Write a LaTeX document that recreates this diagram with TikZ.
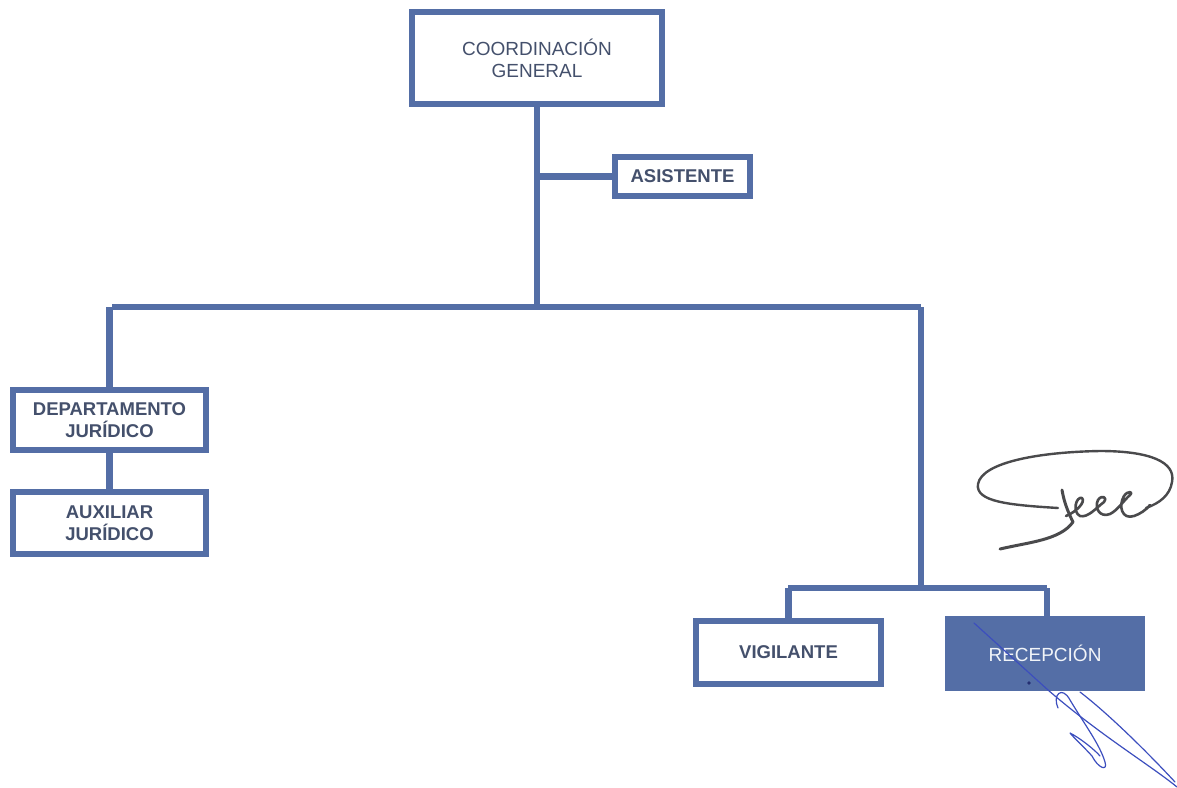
\documentclass[tikz,border=0pt]{standalone}
\usepackage{fontspec}
\setmainfont{Liberation Sans}
\begin{document}
\begin{tikzpicture}[x=1pt,y=-1pt,
  every node/.style={inner sep=0pt, align=center},
  orgbox/.style={draw=linecol, line width=6.5pt, fill=white, rectangle,
    text=txtcol, font=\fontsize{19}{22}\selectfont},
  strong/.style={font=\bfseries\fontsize{18.5}{22}\selectfont},
  link/.style={draw=linecol, line width=6.5pt, line join=miter},
  ink/.style={line width=2.4pt, line cap=round, line join=round}]
\definecolor{linecol}{RGB}{84,110,166}
\definecolor{txtcol}{RGB}{68,80,108}
\definecolor{sigA}{RGB}{74,74,76}
\definecolor{sigB}{RGB}{60,78,190}
\useasboundingbox (0,0) rectangle (1177,787);

% junctions of the tree
\coordinate (hub) at (537,307);
\coordinate (jr) at (921,588);

% connectors
\draw[link] (537,104) coordinate (trunktop) -- (hub);
\draw[link] (hub -| 112,0) -- (921,307) coordinate (barR);
\draw[link] (barR) -- (jr);
\draw[link] (788,588) coordinate (jl) -- (1047,588) coordinate (jrr);

% boxes
\node[orgbox, minimum width=250, minimum height=92] (coord) at (537,58)
  {COORDINACIÓN\\GENERAL};
\node[orgbox, strong, minimum width=135, minimum height=39] (asis) at (682.5,176.5)
  {ASISTENTE};
\node[orgbox, strong, minimum width=193, minimum height=60] (dep) at (109.5,420)
  {DEPARTAMENTO\\JURÍDICO};
\node[orgbox, strong, minimum width=193, minimum height=62] (aux) at (109.5,523)
  {AUXILIAR\\JURÍDICO};
\node[orgbox, strong, minimum width=185, minimum height=63] (vig) at (788.5,652.5)
  {VIGILANTE};
\node[orgbox, fill=linecol, text=white!92!linecol, minimum width=194, minimum height=69] (rec) at (1045,653.5)
  {RECEPCIÓN};

% connectors that meet the boxes
\draw[link] (asis.west) -- (asis.west -| trunktop);
\draw[link] (dep.north) -- (dep.north |- hub);
\draw[link] (dep.south) -- (aux.north);
\draw[link] (vig.north) -- (vig.north |- jl);
\draw[link] (rec.north -| jrr) -- (jrr);

% signature, upper right: open loop
\draw[ink, sigA] (1058,508) .. controls (1010,505) and (975,502) .. (978,484)
  .. controls (982,462) and (1040,452) .. (1100,451)
  .. controls (1150,451) and (1176,462) .. (1172,482)
  .. controls (1170,495) and (1160,503) .. (1146,508);
% signature, upper right: initial stroke and tail
\draw[ink, sigA, line width=3pt] (1062,490) .. controls (1064,502) and (1068,512) .. (1073,522)
  .. controls (1060,540) and (1030,542) .. (1000,549);
% signature, upper right: the small loops
\draw[ink, sigA, line width=2.6pt] (1066,516)
  .. controls (1076,512) and (1086,502) .. (1082,498)
  .. controls (1076,496) and (1072,512) .. (1080,516)
  .. controls (1088,518) and (1096,508) .. (1104,502)
  .. controls (1108,498) and (1102,494) .. (1098,500)
  .. controls (1094,508) and (1100,518) .. (1110,514)
  .. controls (1118,510) and (1124,500) .. (1130,495)
  .. controls (1134,492) and (1128,490) .. (1124,496)
  .. controls (1118,506) and (1122,520) .. (1134,516)
  .. controls (1140,514) and (1146,510) .. (1150,505);

% signature, lower right
\draw[ink, sigB, line width=1.2pt] (974,623) -- (1048,690)
  .. controls (1100,735) and (1150,765) .. (1177,787);
\draw[ink, sigB, line width=1.2pt] (1058,708) .. controls (1052,695) and (1062,685) .. (1070,700)
  .. controls (1085,725) and (1100,745) .. (1105,762)
  .. controls (1108,772) and (1098,768) .. (1092,756)
  .. controls (1082,745) and (1074,738) .. (1070,733)
  .. controls (1080,738) and (1095,750) .. (1100,756);
\draw[ink, sigB, line width=1.2pt] (1080,692) .. controls (1110,715) and (1150,755) .. (1175,782);
\fill[sigB!60!black] (1029,683) circle (1.8pt);
\end{tikzpicture}
\end{document}
